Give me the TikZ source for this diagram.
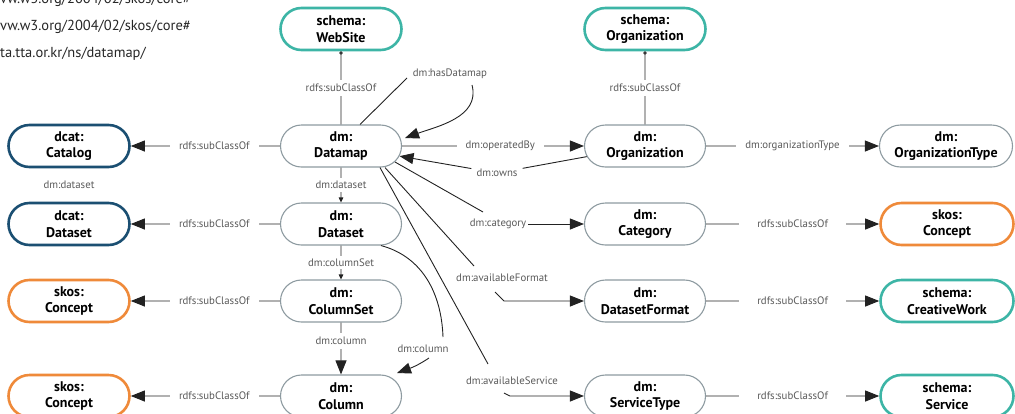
\documentclass[tikz,border=0pt]{standalone}
\usepackage{fontspec}
\setmainfont{PT Sans}
\usetikzlibrary{shapes.misc,arrows.meta,calc}
\definecolor{tealc}{HTML}{3DB5A6}
\definecolor{dbluec}{HTML}{1B4F72}
\definecolor{orngc}{HTML}{EF8A3A}
\definecolor{gborder}{HTML}{8E9BA1}
\definecolor{lblgray}{HTML}{5A5A5A}
\definecolor{edgec}{HTML}{222222}
\begin{document}
\begin{tikzpicture}[x=1pt,y=-1pt,
 cls/.style={rounded rectangle, minimum width=121pt, minimum height=42pt, align=center,
   font=\bfseries\fontsize{14}{16.5}\selectfont, inner sep=0pt, fill=white},
 dmcls/.style={cls, draw=gborder, line width=1.1pt},
 schemacls/.style={cls, draw=tealc, line width=2.6pt},
 dcatcls/.style={cls, draw=dbluec, line width=2.6pt},
 skoscls/.style={cls, draw=orngc, line width=2.6pt},
 widecls/.style={minimum width=133pt},
 lbl/.style={fill=white, text=lblgray, font=\fontsize{10.8}{12}\selectfont, inner xsep=9pt, inner ysep=4pt},
 plbl/.style={text=lblgray, font=\fontsize{10.8}{12}\selectfont, inner sep=2pt},
 conn/.style={draw=edgec, line width=0.9pt},
 bigarr/.style={conn, -{Triangle[length=14pt,width=11pt]}},
 smallarr/.style={conn, -{Triangle[length=5pt,width=4.5pt]}},
 dotarr/.style={conn, -{Circle[open,length=3.5pt]}},
 urltext/.style={text=black!85, font=\fontsize{14.5}{16}\selectfont, inner sep=0pt},
]
\useasboundingbox (0,0) rectangle (1015,413);
\clip (0,0) rectangle (1015,413);

% prefix lines (cut at the left edge)
\node[urltext, anchor=base west] (u1) at (0,3) {vw.w3.org/2004/02/skos/core\#};
\node[urltext, anchor=base west] (u2) at (0,30) {vw.w3.org/2004/02/skos/core\#};
\node[urltext, anchor=base west] (u3) at (0,57.5) {ta.tta.or.kr/ns/datamap/};

% nodes
\node[schemacls] (website) at (341,29) {schema:\\WebSite};
\node[schemacls] (sorg) at (645,29) {schema:\\Organization};

\node[dcatcls] (catalog) at (69,146) {dcat:\\Catalog};
\node[dmcls] (datamap) at (341,146) {dm:\\Datamap};
\node[dmcls] (org) at (645,146) {dm:\\Organization};
\node[dmcls, widecls] (orgtype) at (946,146) {dm:\\OrganizationType};

\node[dcatcls] (dcatds) at (69,224) {dcat:\\Dataset};
\node[dmcls] (dataset) at (341,224) {dm:\\Dataset};
\node[dmcls] (category) at (645,224) {dm:\\Category};
\node[skoscls, widecls] (concept1) at (947,224) {skos:\\Concept};

\node[skoscls] (concept2) at (69,301) {skos:\\Concept};
\node[dmcls] (columnset) at (341,301) {dm:\\ColumnSet};
\node[dmcls] (dsformat) at (645,301) {dm:\\DatasetFormat};
\node[schemacls, widecls] (creative) at (947,301) {schema:\\CreativeWork};

\node[skoscls] (concept3) at (69,396) {skos:\\Concept};
\node[dmcls] (column) at (341,396) {dm:\\Column};
\node[dmcls] (servicetype) at (645,396) {dm:\\ServiceType};
\node[schemacls, widecls] (service) at (947,396) {schema:\\Service};

% stray label
\node[plbl] (straylbl) at (69,185) {dm:dataset};

% straight connectors
\draw[dotarr] (datamap) -- node[lbl]{rdfs:subClassOf} (website);
\draw[dotarr] (org) -- node[lbl]{rdfs:subClassOf} (sorg);

\draw[bigarr] (datamap) -- node[lbl,pos=.44]{rdfs:subClassOf} (catalog);
\draw[bigarr] (dataset) -- node[lbl,pos=.44]{rdfs:subClassOf} (dcatds);
\draw[bigarr] (columnset) -- node[lbl,pos=.44]{rdfs:subClassOf} (concept2);
\draw[bigarr] (column) -- node[lbl,pos=.44]{rdfs:subClassOf} (concept3);

\draw[bigarr] (datamap) -- node[lbl,pos=.54]{dm:operatedBy} (org);
\draw[bigarr] (org) -- node[lbl]{dm:organizationType} (orgtype);
\draw[bigarr] (category) -- node[lbl,inner xsep=18pt]{rdfs:subClassOf} (concept1);
\draw[bigarr] (dsformat) -- node[lbl,inner xsep=18pt]{rdfs:subClassOf} (creative);
\draw[bigarr] (servicetype) -- node[lbl,inner xsep=18pt]{rdfs:subClassOf} (service);

\draw[smallarr] (datamap) -- node[lbl,inner ysep=3pt]{dm:dataset} (dataset);
\draw[smallarr] (dataset) -- node[lbl,inner ysep=3pt]{dm:columnSet} (columnset);
\draw[bigarr] (columnset) -- node[lbl,pos=.35,inner ysep=4pt]{dm:column} (column);

% labels of bent connectors
\node[plbl] (lblHas) at (450,74) {dm:hasDatamap};
\node[plbl, inner xsep=5pt] (lblOwns) at (497,173) {dm:owns};
\node[plbl] (lblCat) at (498,224) {dm:category};
\node[plbl] (lblFmt) at (502,278) {dm:availableFormat};
\node[plbl] (lblSvc) at (512,381) {dm:availableService};
\node[plbl] (lblCol) at (423,349) {dm:column};

% hasDatamap loop
\draw[conn] ($(datamap.north)+(19,0)$) -- ($(lblHas.center)+(-43,4)$);
\draw[bigarr] ($(lblHas.center)+(22,11)$) to[out=-75,in=20] ($(datamap.east)+(3,-8)$);

% owns
\draw[conn] (org) -- (lblOwns);
\draw[bigarr] (lblOwns) -- (datamap);

% category
\draw[conn] ($(datamap.center)+(54,16)$) -- ($(lblCat.center)+(-15,-12)$);
\draw[bigarr] (lblCat) -- (category);

% availableFormat
\draw[conn] ($(datamap.south)+(44,0)$) -- ($(lblFmt.center)+(-28,-12)$);
\draw[bigarr] ($(lblFmt.center)+(-7,14)$) -- ++(9,9) -- (dsformat.west);

% availableService
\draw[conn] ($(datamap.south)+(39,0)$) -- ($(lblSvc.center)+(-24,-17)$);
\draw[bigarr] ($(lblSvc.center)+(-8,12)$) -- ++(6,3) -- (servicetype.west);

% dataset -> column
\draw[conn] ($(dataset.south)+(40,0)$) to[out=-15,in=92] ($(lblCol.center)+(20,-12)$);
\draw[bigarr] ($(lblCol.center)+(6,9)$) to[out=214,in=20] ($(column.center)+(56,-23)$);
\end{tikzpicture}
\end{document}
